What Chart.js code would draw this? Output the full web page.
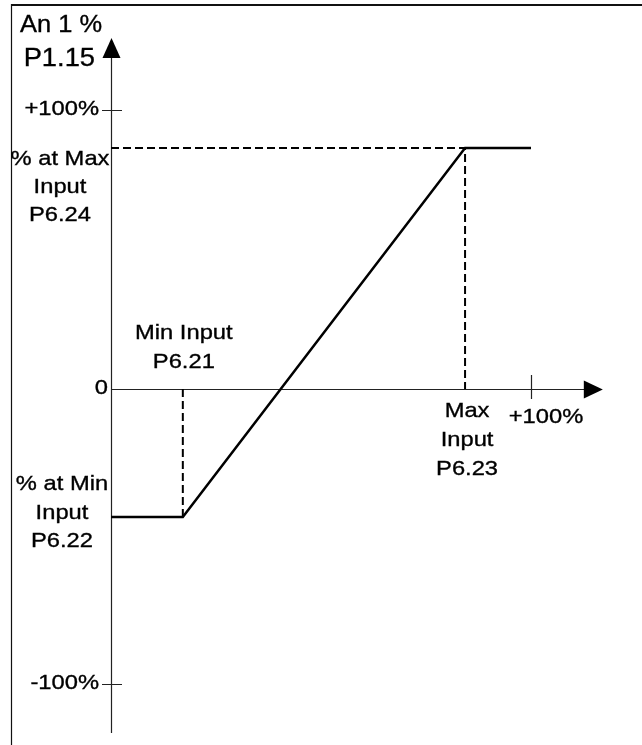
<!DOCTYPE html>
<html>
<head>
<meta charset="utf-8">
<script src="https://cdn.jsdelivr.net/npm/chart.js@4"></script>
<style>
  html, body { margin: 0; padding: 0; background: #fff; }
  canvas { display: block; }
</style>
</head>
<body>
<canvas id="scalingChart" width="642" height="745"></canvas>
<script>
// Analog input scaling: input % (x) -> An 1 % P1.15 (y)
const minInput = 17.1;    // P6.21
const maxInput = 84.3;    // P6.23
const pctAtMin = -45.9;   // P6.22
const pctAtMax = 86.4;    // P6.24

const inputValues = [0, minInput, maxInput, 100];
const outputValues = [pctAtMin, pctAtMin, pctAtMax, pctAtMax];

const yTickValues = [100, 0, -105.7];
const yTickLabels = ['+100%', '0', '-100%'];
const xTickValues = [100];
const xTickLabels = ['+100%'];

const FONT = '"Liberation Sans", Arial, sans-serif';

function drawText(ctx, text, x, y, size, align, stretch) {
    ctx.save();
    ctx.font = size + 'px ' + FONT;
    ctx.textBaseline = 'alphabetic';
    ctx.textAlign = align;
    ctx.translate(x, y);
    ctx.scale(stretch, 1);
    ctx.lineWidth = 0.35;
    ctx.strokeStyle = '#000';
    ctx.fillText(text, 0, 0);
    ctx.strokeText(text, 0, 0);
    ctx.restore();
}

function drawLines(ctx, lines, x, y, step) {
    lines.forEach((t, i) => drawText(ctx, t, x, y + i * step, 21, 'center', 1.13));
}

const diagramPlugin = {
    id: 'diagram',
    beforeDatasetsDraw(chart) {
        const ctx = chart.ctx;
        const xs = chart.scales.x, ys = chart.scales.y;
        const ox = xs.getPixelForValue(0), oy = ys.getPixelForValue(0);

        ctx.save();
        // frame
        ctx.strokeStyle = '#111';
        ctx.lineWidth = 1.2;
        ctx.beginPath();
        ctx.moveTo(11.5, 745);
        ctx.lineTo(11.5, 4);
        ctx.stroke();
        ctx.lineWidth = 2;
        ctx.beginPath();
        ctx.moveTo(11, 5);
        ctx.lineTo(642, 5);
        ctx.stroke();

        // axes
        ctx.strokeStyle = '#222';
        ctx.fillStyle = '#000';
        ctx.lineWidth = 1.2;
        const yTop = ys.getPixelForValue(125.8), yBottom = ys.getPixelForValue(-123.3);
        const xEnd = xs.getPixelForValue(117.1);
        ctx.beginPath();
        ctx.moveTo(Math.round(ox) + 0.5, yTop + 10);
        ctx.lineTo(Math.round(ox) + 0.5, yBottom);
        ctx.moveTo(ox, Math.round(oy) + 0.5);
        ctx.lineTo(xEnd - 10, Math.round(oy) + 0.5);
        ctx.stroke();
        // arrow heads
        ctx.beginPath();
        ctx.moveTo(ox + 0.5, yTop);
        ctx.lineTo(ox + 9.5, yTop + 20);
        ctx.lineTo(ox - 8.5, yTop + 20);
        ctx.closePath();
        ctx.fill();
        ctx.beginPath();
        ctx.moveTo(xEnd, oy + 0.5);
        ctx.lineTo(xEnd - 19, oy + 9.5);
        ctx.lineTo(xEnd - 19, oy - 8.5);
        ctx.closePath();
        ctx.fill();

        // ticks
        ctx.beginPath();
        yTickValues.forEach(v => {
            if (v === 0) return;
            const p = Math.round(ys.getPixelForValue(v)) + 0.5;
            ctx.moveTo(ox - 9, p);
            ctx.lineTo(ox + 11, p);
        });
        xTickValues.forEach(v => {
            const p = Math.round(xs.getPixelForValue(v)) + 0.5;
            ctx.moveTo(p, oy - 14);
            ctx.lineTo(p, oy + 10);
        });
        ctx.stroke();
        ctx.restore();
    },
    afterDraw(chart) {
        const ctx = chart.ctx;
        const xs = chart.scales.x, ys = chart.scales.y;
        const ox = xs.getPixelForValue(0), oy = ys.getPixelForValue(0);
        ctx.save();
        ctx.fillStyle = '#000';

        drawText(ctx, 'An 1 %', 20, 32, 24, 'left', 1.06);
        drawText(ctx, 'P1.15', 95, 66, 26, 'right', 1.05);

        yTickValues.forEach((v, i) => {
            const p = ys.getPixelForValue(v);
            const right = v === 0 ? ox - 3 : ox - 12;
            drawText(ctx, yTickLabels[i], right, p + 5, 21, 'right', 1.13);
        });
        xTickValues.forEach((v, i) => {
            drawText(ctx, xTickLabels[i], xs.getPixelForValue(v) + 15, oy + 34, 21, 'center', 1.13);
        });

        const pMax = ys.getPixelForValue(pctAtMax);
        const pMin = ys.getPixelForValue(pctAtMin);
        drawLines(ctx, ['% at Max', 'Input', 'P6.24'], 60, pMax + 17, 28);
        drawLines(ctx, ['% at Min', 'Input', 'P6.22'], 62, pMin - 27, 28.5);
        drawLines(ctx, ['Min Input', 'P6.21'], xs.getPixelForValue(minInput) + 1, oy - 50, 29);
        drawLines(ctx, ['Max', 'Input', 'P6.23'], xs.getPixelForValue(maxInput) + 2, oy + 28, 29);
        ctx.restore();
    }
};

const toPoints = (xv, yv) => xv.map((x, i) => ({ x: x, y: yv[i] }));

new Chart(document.getElementById('scalingChart').getContext('2d'), {
    type: 'scatter',
    data: {
        datasets: [{
            label: 'An 1 %',
            data: toPoints(inputValues, outputValues),
            showLine: true,
            borderColor: '#000',
            borderWidth: 2.5,
            pointRadius: 0,
            tension: 0
        }, {
            label: '% at Max Input',
            data: toPoints([0, maxInput, maxInput], [pctAtMax, pctAtMax, 0]),
            showLine: true,
            borderColor: '#000',
            borderWidth: 2,
            borderDash: [8, 4],
            pointRadius: 0
        }, {
            label: 'Min Input',
            data: toPoints([minInput, minInput], [0, pctAtMin]),
            showLine: true,
            borderColor: '#000',
            borderWidth: 2,
            borderDash: [8, 4],
            pointRadius: 0
        }]
    },
    options: {
        responsive: false,
        animation: false,
        layout: { padding: 0 },
        plugins: { legend: { display: false }, tooltip: { enabled: false } },
        scales: {
            x: { type: 'linear', display: false, min: -26.43, max: 126.43 },
            y: { type: 'linear', display: false, min: -127.6, max: 139.43 }
        }
    },
    plugins: [diagramPlugin]
});
</script>
</body>
</html>
